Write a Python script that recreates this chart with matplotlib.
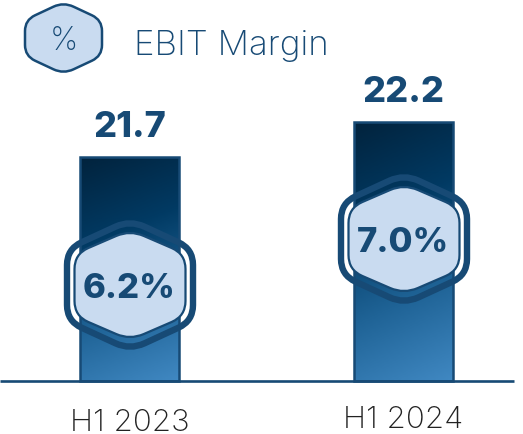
import numpy as np
import matplotlib
matplotlib.use('Agg')
import matplotlib.pyplot as plt
from matplotlib.path import Path
from matplotlib.patches import PathPatch
from matplotlib.colors import LinearSegmentedColormap

periods = ['H1 2023', 'H1 2024']
ebit = [21.7, 22.2]
margin = ['6.2%', '7.0%']
badge_y = [286, 240]
bar_x = [0, 1]
base = 18.5

navy = '#174a75'
pale = '#c9dbf0'
W, H = 523, 435


def hexagon(cx, cy, w, side, top, r):
    # rounded hexagon, pointy at top and bottom
    pts = np.array([(cx, cy - top), (cx + w, cy - side), (cx + w, cy + side),
                    (cx, cy + top), (cx - w, cy + side), (cx - w, cy - side)], float)
    verts, codes = [], []
    n = len(pts)
    for i in range(n):
        p, prev, nxt = pts[i], pts[i - 1], pts[(i + 1) % n]
        a = p + (prev - p) / np.linalg.norm(prev - p) * r
        b = p + (nxt - p) / np.linalg.norm(nxt - p) * r
        verts += [a, p, b]
        codes += [Path.MOVETO if i == 0 else Path.LINETO, Path.CURVE3, Path.CURVE3]
    verts.append(verts[0])
    codes.append(Path.CLOSEPOLY)
    return Path(verts, codes)


fig = plt.figure(figsize=(W / 100, H / 100), dpi=100)

# bars on a truncated scale, 70 px per unit
ax = fig.add_axes([0, 0, 1, 1])
xlim = (-129.5 / 274, (W - 129.5) / 274)
ylim = (base - (H - 381.5) / 70, base + 381.5 / 70)

cmap = LinearSegmentedColormap.from_list('bar', ['#01233d', '#013a63', '#1f6396', '#4088c2'])
xx, yy = np.meshgrid(np.linspace(0, 1, 50), np.linspace(0, 1, 200))
grad = yy * 0.85 + xx * 0.15

bars = ax.bar(bar_x, np.array(ebit) - base, bottom=base, width=99.5 / 274,
              facecolor='none', edgecolor=navy, linewidth=1.8, zorder=3)
for b in bars:
    x0, x1 = b.get_x(), b.get_x() + b.get_width()
    # row 0 is the top of the bar
    ax.imshow(grad, cmap=cmap, extent=[x0, x1, base, b.get_y() + b.get_height()],
              aspect='auto', origin='upper', vmin=0, vmax=1, zorder=2)
ax.set_xlim(xlim)
ax.set_ylim(ylim)
ax.axis('off')

ax.plot([xlim[0], (514 - 129.5) / 274], [base, base], color=navy, lw=1.9, zorder=4,
        solid_capstyle='butt')

for x, v in zip(bar_x, ebit):
    ax.annotate(f'{v}', (x, v), xytext=(0, 14), textcoords='offset pixels', ha='center',
                va='bottom', fontsize=26, fontweight='heavy', color=navy, family='Inter')
ax.text(0, base - 41 / 70, periods[0], ha='center', va='center', fontsize=22.5,
        color='#222222', family='Inter', fontweight='light')
ax.text(1, base - 38 / 70, periods[1], ha='center', va='center', fontsize=22.5,
        color='#222222', family='Inter', fontweight='light')

# badges and header in pixel coordinates
ov = fig.add_axes([0, 0, 1, 1])
ov.set_xlim(0, W)
ov.set_ylim(H, 0)
ov.axis('off')
ov.patch.set_alpha(0)

for cx, cy, label in zip([130, 404], badge_y, margin):
    ov.add_patch(PathPatch(hexagon(cx, cy, 63, 36, 65, 16), facecolor='none', edgecolor=navy, lw=4.6))
    ov.add_patch(PathPatch(hexagon(cx, cy, 55.5, 31, 55, 15), facecolor=pale, edgecolor=navy, lw=1.6))
    ov.text(cx - 1, cy + 3, label, ha='center', va='center', fontsize=25, fontweight='heavy',
            color=navy, family='Inter')

ov.add_patch(PathPatch(hexagon(63.5, 39, 38.5, 18, 36, 11), facecolor=pale, edgecolor=navy, lw=1.8))
ov.text(63.5, 41, '%', ha='center', va='center', fontsize=23, color=navy, family='Inter',
        fontweight='light')
ov.text(134, 46, 'EBIT Margin', ha='left', va='center', fontsize=25.2, color=navy, family='Inter',
        fontweight='light')

fig.savefig('out.png', dpi=100)
